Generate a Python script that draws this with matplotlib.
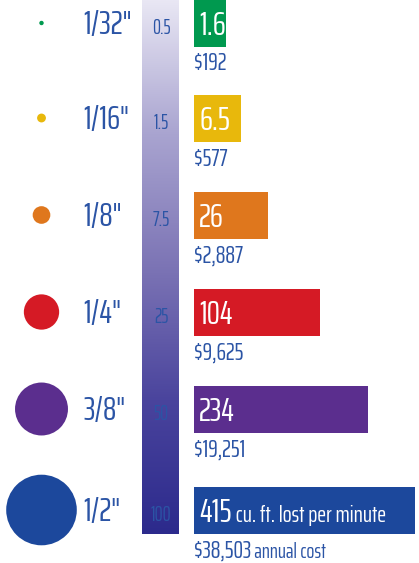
import numpy as np
import matplotlib
matplotlib.use("Agg")
import matplotlib.pyplot as plt
from matplotlib.patches import Circle, Rectangle
from matplotlib.colors import LinearSegmentedColormap

# ── data ──────────────────────────────────────────────────────────────────────
hole_labels = ['1/32"', '1/16"', '1/8"', '1/4"', '3/8"', '1/2"']
hole_inches = [1 / 32, 1 / 16, 1 / 8, 1 / 4, 3 / 8, 1 / 2]
psi_labels = ["0.5", "1.5", "7.5", "25", "50", "100"]
cfm_values = [1.6, 6.5, 26, 104, 234, 415]
cfm_labels = ["1.6", "6.5", "26", "104", "234", "415"]
cost_labels = ["$192", "$577", "$2,887", "$9,625", "$19,251", "$38,503"]
colors = ["#00994f", "#e8b80c", "#df771d", "#d51a25", "#5b2e8e", "#1c489c"]

TEXT_BLUE = "#2b54a5"
FONT = ["Saira ExtraCondensed", "Big Shoulders Text", "Liberation Sans Narrow", "DejaVu Sans"]

# ── layout (pixels) ───────────────────────────────────────────────────────────
W, H = 419, 563
ROW_Y = [23, 118, 215, 312, 409, 510]
CIRCLE_X = 41.5
RADIUS_PER_INCH = 70.6
LABEL_X = 83
GRAD_X0, GRAD_X1, GRAD_BOTTOM = 142, 179, 534
BAR_X = 194
BAR_H = 47


def bar_len(v):
    # compressed scale used for the bar lengths
    return 15.1 + 13.66 * v ** 0.45


def txt(x, y, s, size, color, ha="left"):
    return ax.text(x, y, s, family=FONT, fontsize=size,
                   color=color, va="baseline", ha=ha)


fig = plt.figure(figsize=(W / 100, H / 100), dpi=100)
ax = fig.add_axes([0, 0, 1, 1])
ax.set_xlim(0, W)
ax.set_ylim(H, 0)
ax.axis("off")

# gradient pressure column
grad_cmap = LinearSegmentedColormap.from_list(
    "psi", ["#e9e7f4", "#a9a4d0", "#7c74b5", "#4a449d", "#2c2a8c"])
ax.imshow(np.linspace(0, 1, 256).reshape(-1, 1), cmap=grad_cmap, aspect="auto",
          extent=[GRAD_X0, GRAD_X1, GRAD_BOTTOM, 0], zorder=0)

last = len(hole_labels) - 1
for i, y in enumerate(ROW_Y):
    ax.add_patch(Circle((CIRCLE_X, y), hole_inches[i] * RADIUS_PER_INCH,
                        color=colors[i], lw=0))
    txt(LABEL_X, y + 11, hole_labels[i], 24, TEXT_BLUE)
    txt((GRAD_X0 + GRAD_X1) / 2 + 0.5, y + 11, psi_labels[i], 14.5, TEXT_BLUE, ha="center")

    ax.add_patch(Rectangle((BAR_X, y - BAR_H / 2), bar_len(cfm_values[i]), BAR_H,
                           color=colors[i], lw=0))
    t = txt(BAR_X + 5, y + 12, cfm_labels[i], 24, "white")
    c = txt(BAR_X, y + 47.5, cost_labels[i], 17.5, TEXT_BLUE)
    if i == last:
        ax.annotate(" cu. ft. lost per minute", xy=(1, y + 12), xycoords=(t, "data"),
                    family=FONT, fontsize=17, color="white",
                    va="baseline", ha="left")
        ax.annotate(" annual cost", xy=(1, y + 47.5), xycoords=(c, "data"),
                    family=FONT, fontsize=15, color=TEXT_BLUE,
                    va="baseline", ha="left")

fig.savefig("out.png", dpi=100)
